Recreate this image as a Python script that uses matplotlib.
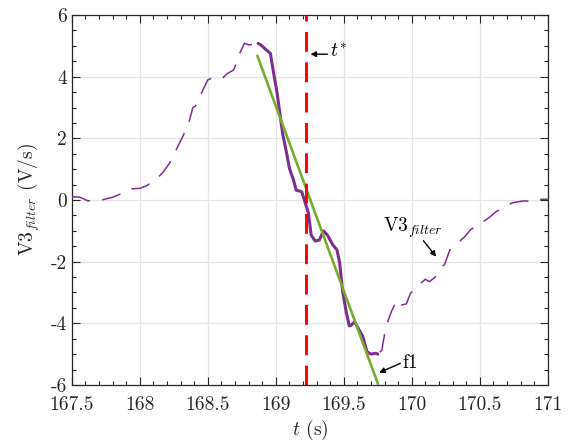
import matplotlib
matplotlib.use("Agg")
import matplotlib.pyplot as plt
import numpy as np
from matplotlib.ticker import MultipleLocator

plt.rcParams['font.family'] = ['serif']
plt.rcParams['font.serif'] = ['cmr10']
plt.rcParams['mathtext.fontset'] = 'cm'
plt.rcParams['axes.formatter.use_mathtext'] = True

# V3_filter signal (time in s, value in V/s)
t = [167.50, 167.56, 167.62, 167.66, 167.72, 167.80, 167.85, 167.94, 168.00, 168.05,
     168.13, 168.17, 168.22, 168.26, 168.32, 168.36, 168.39, 168.41, 168.45, 168.50, 168.53,
     168.60, 168.64, 168.69, 168.70, 168.74, 168.77, 168.80, 168.84, 168.87, 168.89,
     168.93, 168.96, 168.98, 169.01, 169.03, 169.05, 169.08, 169.10, 169.13, 169.15,
     169.19, 169.21, 169.24, 169.26, 169.29, 169.32, 169.35, 169.38, 169.42, 169.45,
     169.47, 169.49, 169.52, 169.54, 169.55, 169.58, 169.62, 169.64, 169.67, 169.70,
     169.735, 169.75, 169.78, 169.79, 169.81, 169.85, 169.89, 169.92, 169.96, 169.99,
     170.06, 170.10, 170.13, 170.17, 170.22, 170.24, 170.28, 170.34, 170.39, 170.43,
     170.51, 170.56, 170.62, 170.71, 170.74, 170.82, 170.92, 170.95, 171.00]
v = [0.11, 0.09, -0.03, 0.00, 0.00, 0.09, 0.18, 0.36, 0.38, 0.46,
     0.71, 0.90, 1.20, 1.56, 2.10, 2.50, 3.00, 3.05, 3.44, 3.90, 3.95,
     3.92, 4.09, 4.22, 4.32, 4.81, 5.09, 5.03, 5.05, 5.08, 5.03,
     4.87, 4.76, 4.22, 3.46, 2.81, 2.16, 1.51, 1.03, 0.65, 0.32,
     0.27, 0.00, -0.43, -1.14, -1.33, -1.30, -1.00, -1.14, -1.46, -1.62,
     -2.05, -2.92, -3.68, -4.08, -4.08, -3.95, -4.27, -4.43, -4.92, -5.00,
     -4.97, -5.00, -4.87, -4.60, -4.11, -3.62, -3.24, -3.41, -3.37, -3.03,
     -2.72, -2.57, -2.65, -2.51, -2.16, -2.10, -1.62, -1.38, -1.19, -0.97,
     -0.74, -0.60, -0.38, -0.16, -0.09, -0.03, -0.05, 0.02, 0.03]

# fit window (solid highlight)
fit_start, fit_end = 168.87, 169.75
# fitted line f1
f1_t = [168.865, 169.75]
f1_v = [4.67, -5.95]
# onset time t*
t_star = 169.22

xticks = [167.5, 168, 168.5, 169, 169.5, 170, 170.5, 171]
xticklabels = ['167.5', '168', '168.5', '169', '169.5', '170', '170.5', '171']
yticks = [-6, -4, -2, 0, 2, 4, 6]
yticklabels = ['-6', '-4', '-2', '0', '2', '4', '6']

purple = '#7E2F8E'
green = '#77AC30'
tc = '#262626'

fig = plt.figure(figsize=(5.70, 4.43), dpi=100)
ax = fig.add_axes([0.126, 0.131, 0.835, 0.835])

ta = np.array(t)
va = np.array(v)
ax.plot(ta, va, color=purple, lw=1.1, linestyle=(0, (12.5, 8)), zorder=3)
m = (ta >= fit_start) & (ta <= fit_end)
ax.plot(ta[m], va[m], color=purple, lw=2.2, zorder=4, solid_capstyle='round')
ax.plot(f1_t, f1_v, color=green, lw=1.9, zorder=5)
ax.axvline(t_star, color='#FF0000', lw=2.1, linestyle=(0, (6.8, 3.6)), zorder=6)

arrow = dict(arrowstyle='-|>', color='black', lw=1, mutation_scale=8, shrinkA=0, shrinkB=0)

ax.annotate('', xy=(169.255, 4.73), xytext=(169.38, 4.73), arrowprops=arrow)
ax.text(169.395, 4.78, '$t^{*}$', fontsize=14, va='center', ha='left', color='black')

ax.text(170.01, -0.9, 'V3$_{filter}$', fontsize=14, va='center', ha='center', color='black')
ax.annotate('', xy=(170.18, -1.84), xytext=(170.085, -1.32), arrowprops=arrow)

ax.annotate('', xy=(169.76, -5.6), xytext=(169.915, -5.3), arrowprops=arrow)
ax.text(169.93, -5.28, 'f1', fontsize=14, va='center', ha='left', color='black')

ax.set_xlim(167.5, 171)
ax.set_ylim(-6, 6)
ax.set_xticks(xticks)
ax.set_xticklabels(xticklabels)
ax.set_yticks(yticks)
ax.set_yticklabels(yticklabels)
ax.xaxis.set_minor_locator(MultipleLocator(0.1))
ax.yaxis.set_minor_locator(MultipleLocator(0.5))
ax.tick_params(which='both', direction='in', top=True, right=True, colors=tc,
               labelsize=14, width=0.8)
ax.tick_params(which='major', length=6)
ax.tick_params(which='minor', length=3)
ax.tick_params(axis='x', which='major', pad=8)
ax.grid(True, which='major', color='#e5e5e5', lw=0.9)
ax.set_axisbelow(True)
for s in ax.spines.values():
    s.set_color(tc)
    s.set_linewidth(0.9)

ax.set_xlabel('$t$ (s)', fontsize=14, color=tc, labelpad=3)
ax.set_ylabel('V3$_{filter}$ (V/s)', fontsize=14, color=tc, labelpad=6)

fig.savefig('out.png', dpi=100)
